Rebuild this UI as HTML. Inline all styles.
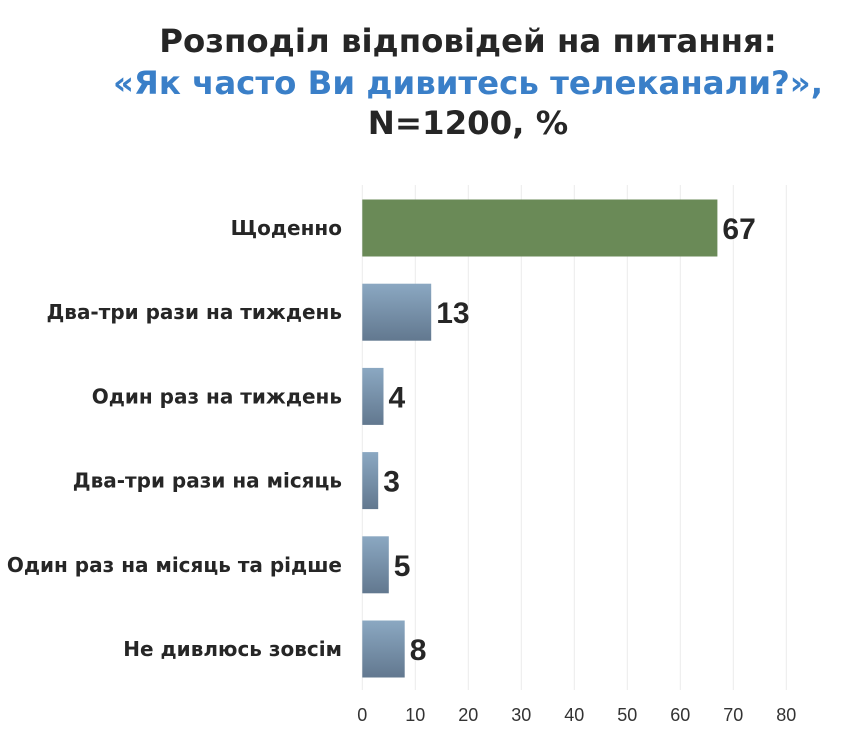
<!DOCTYPE html>
<html><head><meta charset="utf-8"><style>
body{margin:0;background:#fff;width:856px;height:731px;overflow:hidden;font-family:"Liberation Sans",Arial,sans-serif}
.t{position:absolute;left:0;width:936px;text-align:center;font-weight:bold;font-size:32.4px;color:#262626;font-family:"DejaVu Sans",sans-serif}
</style></head><body>
<div class="t" style="top:22px">Розподіл відповідей на питання:</div>
<div class="t" style="top:64px;color:#3a7fc8">«Як часто Ви дивитесь телеканали?»,</div>
<div class="t" style="top:104px">N=1200, %</div>
<svg width="856" height="731" style="position:absolute;left:0;top:0">
<defs>
<linearGradient id="g" x1="0" y1="0" x2="0" y2="1"><stop offset="0" stop-color="#8ba8c2"/><stop offset="1" stop-color="#62788f"/></linearGradient>
</defs>
<g id="grid"></g><g id="bars"></g><g id="ticks"></g>
</svg>
<script>
const categories=["Щоденно","Два-три рази на тиждень","Один раз на тиждень","Два-три рази на місяць","Один раз на місяць та рідше","Не дивлюсь зовсім"];
const values=[67,13,4,3,5,8];
const tickLabels=[0,10,20,30,40,50,60,70,80];
const NS="http://www.w3.org/2000/svg";
const x=v=>362.3+v*5.3;
const yc=i=>228+i*84.2;
function mk(t,a,p){const e=document.createElementNS(NS,t);for(const k in a)e.setAttribute(k,a[k]);p.appendChild(e);return e;}
const grid=document.getElementById('grid'),bars=document.getElementById('bars'),ticks=document.getElementById('ticks');
tickLabels.forEach(v=>{
 const l=mk('line',{x1:x(v),x2:x(v),y1:185,y2:690,stroke:'#ebebeb','stroke-width':1},grid);
 
 
 const t=mk('text',{x:x(v),y:721,'text-anchor':'middle','font-size':18,fill:'#333','font-family':'Liberation Sans, sans-serif'},ticks);
 t.textContent=v;
 
 
});
values.forEach((v,i)=>{
 const c=yc(i);
 const r=mk('rect',{x:x(0),y:c-28.5,width:x(v)-x(0),height:57,fill:i==0?'#6a8a57':'url(#g)'},bars);
 
 
 const vt=mk('text',{x:x(v)+5,y:c+11,'font-size':30,'font-weight':'bold',fill:'#262626','font-family':'Liberation Sans, sans-serif'},bars);
 vt.textContent=v;
 
 
 const ct=mk('text',{x:342,y:c+7,'text-anchor':'end','font-size':20,'font-weight':'bold',fill:'#262626','font-family':'DejaVu Sans, sans-serif'},bars);
 ct.textContent=categories[i];
 
 
});
</script>
</body></html>
